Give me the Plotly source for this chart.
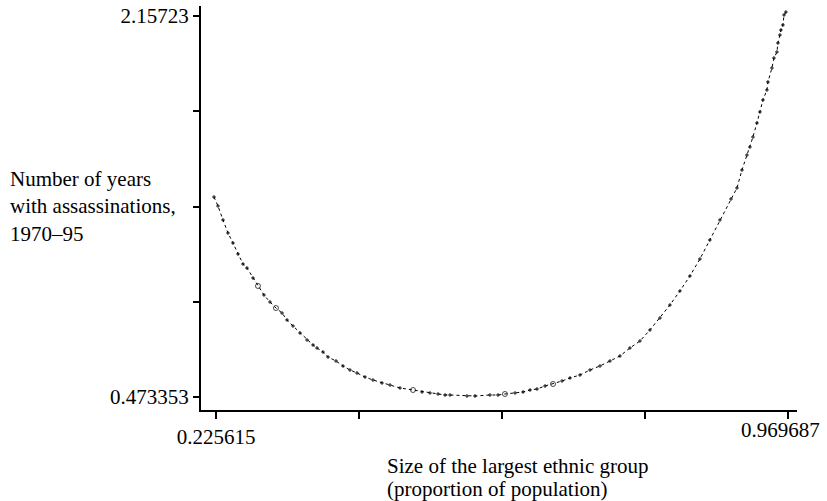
import plotly.graph_objects as go

# Predicted number of years with assassinations against the share of the largest ethnic group
ethnic_share = [
    0.2230, 0.2282, 0.2347, 0.2412, 0.2477, 0.2542, 0.2607, 0.2659, 0.2737, 0.2802,
    0.2880, 0.2958, 0.3036, 0.3115, 0.3180, 0.3258, 0.3349, 0.3440, 0.3518, 0.3570,
    0.3648, 0.3713, 0.3817, 0.3908, 0.3999, 0.4090, 0.4194, 0.4298, 0.4415, 0.4519,
    0.4650, 0.4819, 0.4936, 0.5040, 0.5144, 0.5235, 0.5300, 0.5521, 0.5625, 0.5820,
    0.5924, 0.6015, 0.6146, 0.6250, 0.6341, 0.6432, 0.6536, 0.6640, 0.6757, 0.6861,
    0.6991, 0.7121, 0.7251, 0.7381, 0.7511, 0.7641, 0.7771, 0.7901, 0.8031, 0.8161,
    0.8291, 0.8421, 0.8551, 0.8681, 0.8811, 0.8955, 0.9033, 0.9098, 0.9163, 0.9202,
    0.9241, 0.9293, 0.9332, 0.9371, 0.9423, 0.9436, 0.9488, 0.9514, 0.9553, 0.9566,
    0.9592, 0.9605, 0.9631, 0.9645, 0.9670,
]
years_assassinations = [
    1.3573, 1.3175, 1.2557, 1.1982, 1.1540, 1.1054, 1.0612, 1.0435, 0.9993, 0.9640,
    0.9242, 0.8933, 0.8667, 0.8446, 0.8137, 0.7872, 0.7563, 0.7253, 0.7032, 0.6900,
    0.6723, 0.6502, 0.6325, 0.6104, 0.5927, 0.5795, 0.5618, 0.5485, 0.5353, 0.5264,
    0.5132, 0.5043, 0.4955, 0.4911, 0.4867, 0.4822, 0.4822, 0.4778, 0.4778, 0.4822,
    0.4822, 0.4867, 0.4911, 0.4955, 0.5043, 0.5087, 0.5220, 0.5308, 0.5441, 0.5574,
    0.5706, 0.5927, 0.6104, 0.6325, 0.6546, 0.6900, 0.7209, 0.7695, 0.8225, 0.8800,
    0.9419, 1.0081, 1.0833, 1.1672, 1.2557, 1.3485, 1.3971, 1.4766, 1.5429, 1.5783,
    1.6225, 1.6844, 1.7330, 1.7860, 1.8302, 1.8656, 1.9274, 1.9716, 1.9982, 2.0379,
    2.0733, 2.0954, 2.1175, 2.1617, 2.1749,
]

x_tick_vals = [0.225615, 0.411633, 0.597651, 0.783669, 0.969687]
x_tick_text = ["0.225615", "", "", "", ""]
x_end_label = "0.969687"
y_tick_vals = [0.473353, 0.894322, 1.315292, 1.736261, 2.15723]
y_tick_text = ["0.473353", "", "", "", "2.15723"]

# a handful of observations plotted with open circles
open_idx = {9, 31, 41, 12, 47}
symbols = ["circle-open" if i in open_idx else "circle" for i in range(len(ethnic_share))]
sizes = [5 if i in open_idx else 2.5 for i in range(len(ethnic_share))]

FONT = "Liberation Serif, Times New Roman, serif"
FS = 21

# plot area in pixels
L, R, T, B = 201, 797, 6, 410
PW, PH = R - L, B - T


def px(xp):
    return (xp - L) / PW


def py(yp):
    return (B - yp) / PH


fig = go.Figure()
fig.add_trace(go.Scatter(
    x=ethnic_share,
    y=years_assassinations,
    mode="lines+markers",
    line=dict(color="black", width=1, dash="dot"),
    marker=dict(color="black", size=sizes, symbol=symbols, line=dict(color="black", width=1)),
    showlegend=False,
    hoverinfo="x+y",
))

fig.update_layout(
    width=827,
    height=501,
    margin=dict(l=L, r=827 - R, t=T, b=501 - B),
    paper_bgcolor="white",
    plot_bgcolor="white",
    font=dict(family=FONT, size=FS, color="black"),
    xaxis=dict(
        range=[0.2061, 0.9814],
        automargin=False,
        showline=True, linecolor="black", linewidth=2,
        showgrid=False, zeroline=False,
        ticks="outside", ticklen=7, tickwidth=1.5, tickcolor="black",
        tickvals=x_tick_vals, ticktext=x_tick_text,
        tickfont=dict(family=FONT, size=FS),
    ),
    yaxis=dict(
        range=[0.4159, 2.2014],
        automargin=False,
        showline=True, linecolor="black", linewidth=2,
        showgrid=False, zeroline=False,
        ticks="outside", ticklen=6, tickwidth=1.5, tickcolor="black",
        tickvals=y_tick_vals, ticktext=y_tick_text,
        tickfont=dict(family=FONT, size=FS),
    ),
    annotations=[
        dict(
            text=x_end_label,
            xref="paper", yref="paper", x=px(822), y=py(430),
            xanchor="right", yanchor="middle", showarrow=False,
            font=dict(family=FONT, size=FS),
        ),
        dict(
            text="Number of years<br>with assassinations,<br>1970\u201395",
            xref="paper", yref="paper", x=px(8), y=py(206),
            xanchor="left", yanchor="middle", align="left", showarrow=False,
            font=dict(family=FONT, size=FS),
        ),
        dict(
            text="Size of the largest ethnic group",
            xref="paper", yref="paper", x=px(385), y=py(466),
            xanchor="left", yanchor="middle", align="left", showarrow=False,
            font=dict(family=FONT, size=FS),
        ),
        dict(
            text="(proportion of population)",
            xref="paper", yref="paper", x=px(385), y=py(489),
            xanchor="left", yanchor="middle", align="left", showarrow=False,
            font=dict(family=FONT, size=FS),
        ),
    ],
)

fig.write_html("out.html")
